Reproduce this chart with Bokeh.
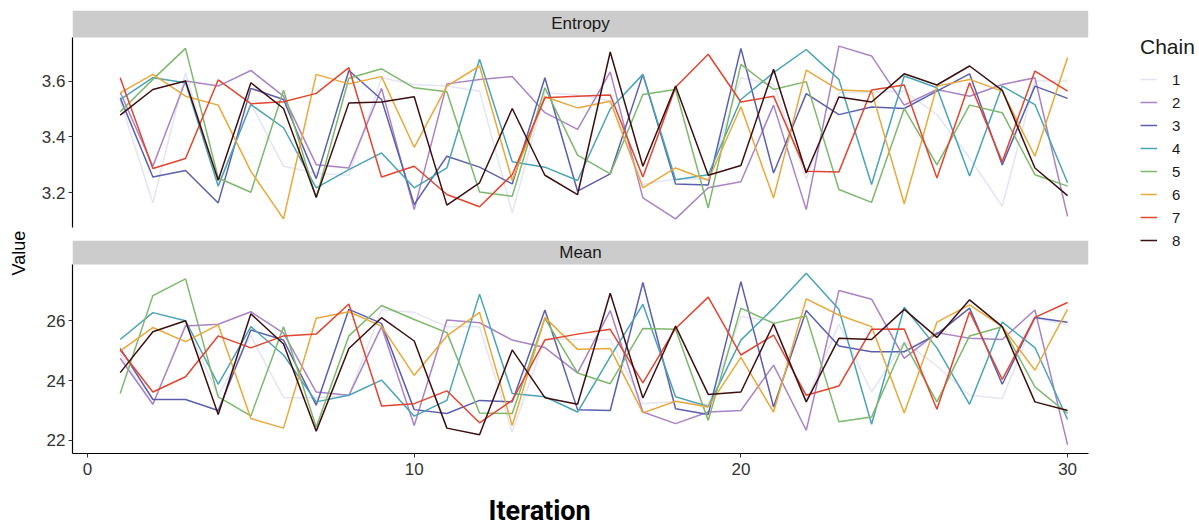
import math
from bokeh.plotting import figure
from bokeh.models import Range1d, FixedTicker, BoxAnnotation, Label, Legend, LegendItem
from bokeh.layouts import row, column
from bokeh.embed import file_html
from bokeh.resources import INLINE

# ---------------- data ----------------
iterations = list(range(1, 31))
chains = ["1", "2", "3", "4", "5", "6", "7", "8"]
entropy_ticks = [3.2, 3.4, 3.6]
mean_ticks = [22, 24, 26]
x_ticks = [0, 10, 20, 30]

entropy_1 = [3.53, 3.164, 3.63, 3.23, 3.52, 3.295, 3.27, 3.263, 3.612, 3.588, 3.582, 3.564, 3.128, 3.558, 3.55,
             3.53, 3.23, 3.25, 3.25, 3.612, 3.588, 3.25, 3.558, 3.56, 3.564, 3.48, 3.325, 3.152, 3.6, 3.6]
entropy_2 = [3.56, 3.295, 3.6, 3.582, 3.638, 3.546, 3.301, 3.289, 3.574, 3.14, 3.59, 3.606, 3.616, 3.487, 3.427,
             3.633, 3.182, 3.107, 3.218, 3.24, 3.514, 3.14, 3.725, 3.69, 3.514, 3.57, 3.546, 3.588, 3.612, 3.116]
entropy_3 = [3.54, 3.257, 3.28, 3.164, 3.574, 3.534, 3.251, 3.638, 3.534, 3.158, 3.331, 3.292, 3.232, 3.612, 3.206,
             3.268, 3.624, 3.232, 3.228, 3.717, 3.271, 3.555, 3.48, 3.507, 3.502, 3.564, 3.626, 3.3, 3.582, 3.538]
entropy_4 = [3.534, 3.612, 3.594, 3.224, 3.516, 3.433, 3.218, 3.283, 3.343, 3.218, 3.289, 3.678, 3.311, 3.292, 3.244,
             3.5, 3.624, 3.247, 3.265, 3.534, 3.63, 3.713, 3.606, 3.23, 3.618, 3.576, 3.26, 3.582, 3.516, 3.236]
entropy_5 = [3.49, 3.606, 3.717, 3.253, 3.202, 3.567, 3.182, 3.61, 3.644, 3.576, 3.562, 3.203, 3.188, 3.576, 3.335,
             3.268, 3.552, 3.57, 3.146, 3.66, 3.57, 3.598, 3.212, 3.166, 3.502, 3.3, 3.514, 3.487, 3.265, 3.224]
entropy_6 = [3.558, 3.624, 3.546, 3.514, 3.277, 3.107, 3.624, 3.59, 3.616, 3.363, 3.582, 3.654, 3.244, 3.544, 3.504,
             3.528, 3.218, 3.289, 3.245, 3.508, 3.182, 3.639, 3.568, 3.564, 3.161, 3.582, 3.606, 3.564, 3.331, 3.684]
entropy_7 = [3.612, 3.287, 3.323, 3.604, 3.519, 3.526, 3.556, 3.648, 3.257, 3.295, 3.194, 3.15, 3.265, 3.54, 3.546,
             3.55, 3.257, 3.578, 3.696, 3.525, 3.546, 3.277, 3.275, 3.568, 3.586, 3.253, 3.594, 3.311, 3.636, 3.564]
entropy_8 = [3.478, 3.57, 3.6, 3.245, 3.594, 3.502, 3.184, 3.522, 3.525, 3.544, 3.156, 3.236, 3.502, 3.263, 3.194,
             3.704, 3.295, 3.582, 3.263, 3.298, 3.642, 3.271, 3.543, 3.525, 3.626, 3.586, 3.654, 3.567, 3.289, 3.19]

mean_1 = [24.9, 23.2, 25.9, 23.5, 25.5, 23.43, 23.43, 23.5, 26.37, 26.29, 25.81, 25.81, 22.28, 25.4, 25.38,
          25.38, 23.23, 23.3, 23.2, 26.15, 25.98, 23.3, 25.9, 23.62, 25.3, 24.5, 23.51, 23.4, 26.1, 25.87]
mean_2 = [24.75, 23.21, 25.83, 25.89, 26.31, 25.59, 23.62, 23.51, 25.81, 22.5, 26.03, 25.94, 25.36, 25.11, 24.26,
          26.35, 22.95, 22.56, 22.95, 23.0, 24.52, 22.34, 27.02, 26.73, 24.75, 25.61, 25.42, 25.38, 26.37, 21.85]
mean_3 = [25.08, 23.37, 23.37, 23.0, 25.7, 25.36, 23.18, 26.39, 25.92, 23.03, 22.9, 23.34, 23.29, 26.37, 23.03,
          23.0, 27.29, 23.06, 22.87, 27.32, 23.12, 26.35, 25.16, 24.97, 24.97, 25.56, 26.43, 23.88, 26.12, 25.96]
mean_4 = [25.38, 26.28, 26.01, 23.88, 25.81, 24.86, 23.29, 23.51, 24.02, 22.81, 23.34, 26.9, 23.57, 23.46, 22.95,
          24.8, 26.56, 23.46, 23.14, 25.36, 26.43, 27.6, 26.39, 22.54, 26.46, 25.1, 23.21, 25.96, 25.11, 22.7]
mean_5 = [23.57, 26.85, 27.41, 23.46, 22.82, 25.81, 22.45, 25.5, 26.52, 26.05, 25.61, 22.92, 22.9, 26.09, 24.26,
          23.9, 25.75, 25.72, 22.67, 26.43, 25.92, 26.17, 22.62, 22.78, 25.27, 23.29, 25.5, 25.81, 23.79, 22.9]
mean_6 = [25.0, 25.78, 25.31, 25.87, 22.73, 22.41, 26.09, 26.31, 25.83, 24.18, 25.5, 26.29, 22.5, 26.12, 25.05,
          25.08, 22.92, 23.31, 23.12, 24.78, 22.95, 26.74, 26.2, 25.81, 22.92, 25.96, 26.54, 25.81, 24.35, 26.39]
mean_7 = [25.03, 23.62, 24.13, 25.5, 25.1, 25.5, 25.56, 26.57, 23.15, 23.23, 23.66, 22.59, 23.34, 25.36, 25.56,
          25.72, 23.93, 25.75, 26.8, 24.86, 25.53, 23.51, 23.82, 25.72, 25.73, 23.04, 26.31, 24.04, 26.12, 26.62]
mean_8 = [24.27, 25.64, 26.01, 22.87, 26.24, 25.23, 22.31, 25.08, 26.11, 25.33, 22.41, 22.19, 25.03, 23.43, 23.21,
          26.93, 23.42, 25.83, 23.54, 23.62, 25.9, 23.29, 25.42, 25.38, 26.39, 25.45, 26.71, 25.81, 23.29, 23.0]

entropy_series = [entropy_1, entropy_2, entropy_3, entropy_4, entropy_5, entropy_6, entropy_7, entropy_8]
mean_series = [mean_1, mean_2, mean_3, mean_4, mean_5, mean_6, mean_7, mean_8]

# ---------------- styles ----------------
palette = ["#e4e4f4", "#a983c6", "#5b5fae", "#4aa3b6", "#7db86c", "#e8a83a", "#e2452f", "#3d0f10"]
FONT = "Liberation Sans"
TICK_COLOR = "#333333"
X_RANGE = (-0.46, 30.64)
LINE_W = 1.5


def blank(width, height, **borders):
    f = figure(width=width, height=height, x_range=Range1d(0, width), y_range=Range1d(0, height),
               output_backend="svg", toolbar_location=None,
               x_axis_location=None, y_axis_location=None, **borders)
    f.outline_line_color = None
    f.grid.visible = False
    return f


def panel(series, y_lo, y_top, y_end, ticks, strip, height, b_top, b_bottom, show_x):
    p = figure(width=1057, height=height,
               x_range=Range1d(*X_RANGE), y_range=Range1d(y_lo, y_end),
               output_backend="svg", toolbar_location=None,
               x_axis_location="below" if show_x else None,
               min_border_left=36, min_border_right=5,
               min_border_top=b_top, min_border_bottom=b_bottom)
    p.outline_line_color = None
    p.grid.visible = False
    p.background_fill_color = "white"
    p.border_fill_color = "white"
    for vals, col in zip(series, palette):
        p.line(iterations, vals, line_color=col, line_width=LINE_W)
    ax = p.yaxis[0]
    ax.ticker = FixedTicker(ticks=ticks)
    ax.bounds = (y_lo, y_top)
    ax.axis_line_color = "black"
    ax.axis_line_width = 1.2
    ax.major_tick_out = 4
    ax.major_tick_in = 0
    ax.minor_tick_line_color = None
    ax.major_tick_line_color = "#333333"
    ax.major_label_text_font = FONT
    ax.major_label_text_font_size = "17px"
    ax.major_label_text_color = TICK_COLOR
    ax.major_label_standoff = 3
    if show_x:
        xa = p.xaxis[0]
        xa.ticker = FixedTicker(ticks=x_ticks)
        xa.axis_line_color = "black"
        xa.axis_line_width = 1.2
        xa.major_tick_out = 4
        xa.major_tick_in = 0
        xa.minor_tick_line_color = None
        xa.major_tick_line_color = "#333333"
        xa.major_label_text_font = FONT
        xa.major_label_text_font_size = "17px"
        xa.major_label_text_color = TICK_COLOR
        xa.major_label_standoff = 5
    p.add_layout(BoxAnnotation(bottom=y_top, fill_color="#cccccc", fill_alpha=1.0,
                               line_color=None, level="underlay"))
    p.add_layout(Label(x=(X_RANGE[0] + X_RANGE[1]) / 2, y=(y_top + y_end) / 2, text=strip,
                       text_align="center", text_baseline="middle",
                       text_font=FONT, text_font_size="17px", text_color="#1a1a1a"))
    return p


p1 = panel(entropy_series, 3.076, 3.756, 3.8526, entropy_ticks, "Entropy", 233, 10, 6, False)
p2 = panel(mean_series, 21.56, 27.89, 28.697, mean_ticks, "Mean", 250, 7, 30, True)

# x axis title strip below the bottom panel
bf = blank(1057, 44, min_border=0)
bf.add_layout(Label(x=486, y=17, text="Iteration", text_align="center", text_baseline="middle",
                    text_font="Roboto", text_font_style="bold", text_font_size="27px",
                    text_color="black"))

# y axis title figure
lf = blank(36, 527, min_border=0)
lf.add_layout(Label(x=18, y=527 - 233, text="Value", angle=math.pi / 2,
                    text_align="center", text_baseline="middle",
                    text_font=FONT, text_font_size="18px", text_color="black"))

# legend figure (legend proxies hold a single NaN point, so they draw nothing themselves)
lg = blank(106, 527, min_border_left=47, min_border_top=35, min_border_right=0, min_border_bottom=0)
items = []
for ch, col in zip(chains, palette):
    r = lg.line(x=[float("nan")], y=[float("nan")], line_color=col, line_width=LINE_W)
    items.append(LegendItem(label=ch, renderers=[r]))
legend = Legend(items=items, location="top_left", title="Chain",
                margin=0, padding=0, spacing=3,
                glyph_width=17, glyph_height=20, label_height=20, label_standoff=15,
                label_text_font=FONT, label_text_font_size="15px", label_text_color="#1a1a1a",
                title_text_font=FONT, title_text_font_size="21px", title_text_font_style="normal",
                title_text_color="#1a1a1a", title_standoff=10,
                background_fill_alpha=0, border_line_alpha=0)
lg.add_layout(legend)

layout = row(lf, column(p1, p2, bf), lg)
open("out.html", "w").write(file_html(layout, INLINE))
